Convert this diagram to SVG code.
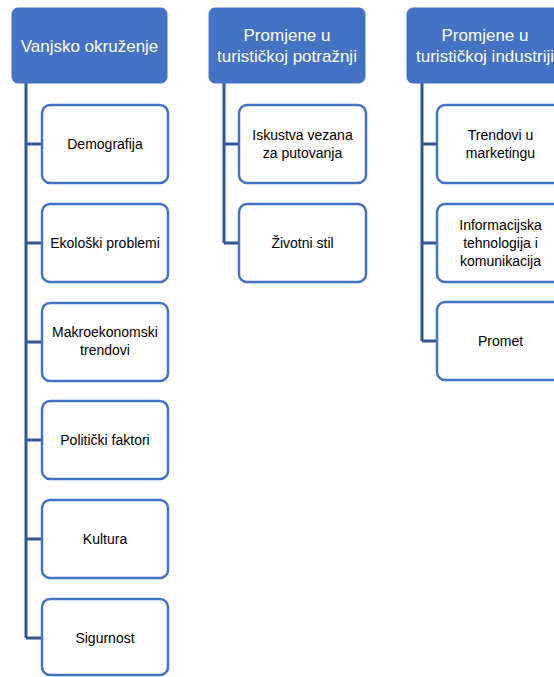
<svg xmlns="http://www.w3.org/2000/svg" width="554" height="677" viewBox="0 0 554 677">
<style>
.hdr{fill:#4472C4;stroke:#4472C4;stroke-width:1}
.child{fill:#FFFFFF;stroke:#4472C4;stroke-width:2.5}
.ht{font-family:"Liberation Sans",Arial,sans-serif;font-size:17px;fill:#FFFFFF;text-anchor:middle}
.ct{font-family:"Liberation Sans",Arial,sans-serif;font-size:14px;fill:#000000;text-anchor:middle}
.conn{fill:none;stroke:#2F5597;stroke-width:3}
</style>
<rect width="554" height="677" fill="#FFFFFF"/>
<g id="connectors">
<path class="conn" d="M26 83 V638 M26 144 H42 M26 243 H42 M26 342 H42 M26 440 H42 M26 539 H42 M26 638 H42"/>
<path class="conn" d="M224 83 V243 M224 144 H239 M224 243 H239"/>
<path class="conn" d="M422 83 V341 M422 144 H437 M422 243 H437 M422 341 H437"/>
</g>
<g id="h1"><rect class="hdr" x="12" y="8" width="155" height="75" rx="6"/><text class="ht" x="89.5" y="52">Vanjsko okruženje</text></g>
<g id="h2"><rect class="hdr" x="209" y="8" width="156" height="75" rx="6"/><text class="ht" x="287" y="41">Promjene u</text><text class="ht" x="287" y="62">turističkoj potražnji</text></g>
<g id="h3"><rect class="hdr" x="407" y="8" width="156" height="75" rx="6"/><text class="ht" x="485" y="41">Promjene u</text><text class="ht" x="485" y="62">turističkoj industriji</text></g>
<g id="c1"><rect class="child" x="42" y="105" width="126" height="78" rx="8"/><text class="ct" x="105" y="149">Demografija</text></g>
<g id="c2"><rect class="child" x="42" y="204" width="126" height="78" rx="8"/><text class="ct" x="105" y="248">Ekološki problemi</text></g>
<g id="c3"><rect class="child" x="42" y="303" width="126" height="78" rx="8"/><text class="ct" x="105" y="337">Makroekonomski</text><text class="ct" x="105" y="355">trendovi</text></g>
<g id="c4"><rect class="child" x="42" y="401" width="126" height="78" rx="8"/><text class="ct" x="105" y="445">Politički faktori</text></g>
<g id="c5"><rect class="child" x="42" y="500" width="126" height="78" rx="8"/><text class="ct" x="105" y="544">Kultura</text></g>
<g id="c6"><rect class="child" x="42" y="599" width="126" height="76" rx="8"/><text class="ct" x="105" y="643">Sigurnost</text></g>
<g id="d1"><rect class="child" x="239" y="105" width="127" height="78" rx="8"/><text class="ct" x="302.5" y="140">Iskustva vezana</text><text class="ct" x="302.5" y="158">za putovanja</text></g>
<g id="d2"><rect class="child" x="239" y="204" width="127" height="78" rx="8"/><text class="ct" x="302.5" y="248">Životni stil</text></g>
<g id="e1"><rect class="child" x="437" y="105" width="127" height="78" rx="8"/><text class="ct" x="500.5" y="140">Trendovi u</text><text class="ct" x="500.5" y="158">marketingu</text></g>
<g id="e2"><rect class="child" x="437" y="204" width="127" height="78" rx="8"/><text class="ct" x="500.5" y="230">Informacijska</text><text class="ct" x="500.5" y="248">tehnologija i</text><text class="ct" x="500.5" y="266">komunikacija</text></g>
<g id="e3"><rect class="child" x="437" y="302" width="127" height="78" rx="8"/><text class="ct" x="500.5" y="346">Promet</text></g>
</svg>
